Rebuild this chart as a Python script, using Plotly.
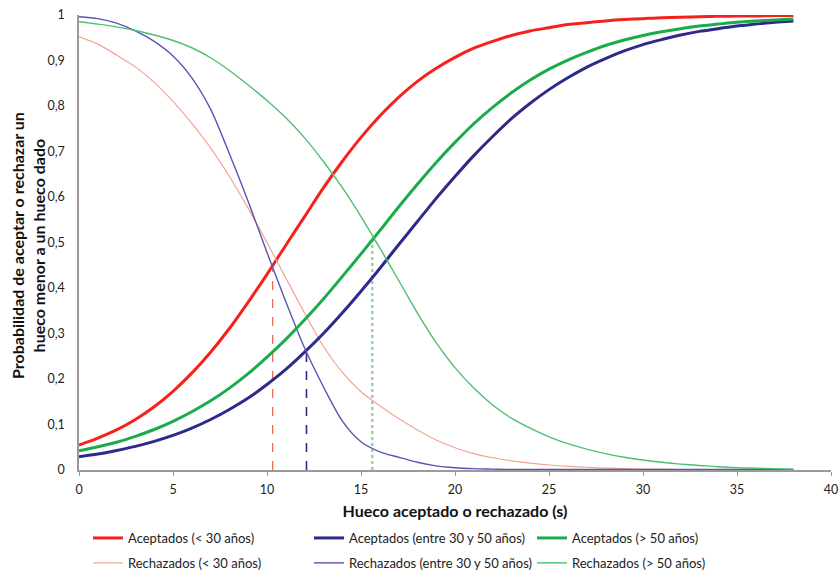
import plotly.graph_objects as go

# ---------------- data ----------------
gap_s = list(range(0, 39))

acc_lt30 = [0.055, 0.070, 0.088, 0.111, 0.139, 0.173, 0.213, 0.259, 0.311, 0.369,
            0.430, 0.494, 0.557, 0.620, 0.678, 0.731, 0.778, 0.819, 0.854, 0.883,
            0.907, 0.927, 0.942, 0.955, 0.965, 0.972, 0.979, 0.983, 0.987, 0.990,
            0.992, 0.994, 0.995, 0.996, 0.997, 0.998, 0.998, 0.999, 0.999]

acc_30_50 = [0.029, 0.035, 0.043, 0.052, 0.063, 0.076, 0.092, 0.111, 0.133, 0.158,
             0.188, 0.221, 0.259, 0.300, 0.345, 0.393, 0.443, 0.495, 0.546, 0.597,
             0.645, 0.691, 0.733, 0.772, 0.806, 0.836, 0.862, 0.885, 0.904, 0.921,
             0.935, 0.946, 0.956, 0.964, 0.970, 0.976, 0.980, 0.984, 0.987]

acc_gt50 = [0.042, 0.051, 0.061, 0.074, 0.089, 0.107, 0.128, 0.152, 0.180, 0.212,
            0.248, 0.287, 0.330, 0.376, 0.425, 0.475, 0.526, 0.578, 0.628, 0.676,
            0.720, 0.761, 0.797, 0.829, 0.857, 0.881, 0.901, 0.918, 0.933, 0.945,
            0.955, 0.963, 0.970, 0.976, 0.980, 0.984, 0.987, 0.989, 0.991]

rej_lt30 = [0.952, 0.936, 0.912, 0.886, 0.852, 0.810, 0.762, 0.708, 0.645, 0.575,
            0.500, 0.422, 0.345, 0.272, 0.215, 0.172, 0.141, 0.113, 0.088, 0.066,
            0.049, 0.036, 0.027, 0.020, 0.015, 0.011, 0.008, 0.006, 0.004, 0.003,
            0.002, 0.002, 0.001, 0.001, 0.001, 0.001, 0.001, 0.001, 0.001]

rej_30_50 = [0.996, 0.992, 0.982, 0.965, 0.942, 0.910, 0.862, 0.793, 0.695, 0.590,
             0.478, 0.370, 0.268, 0.183, 0.108, 0.062, 0.040, 0.028, 0.017, 0.009,
             0.005, 0.003, 0.002, 0.001, 0.001, 0.001, 0.001, 0.001, 0.001, 0.001,
             0.001, 0.001, 0.001, 0.001, 0.001, 0.001, 0.001, 0.001, 0.001]

rej_gt50 = [0.985, 0.980, 0.974, 0.966, 0.956, 0.944, 0.928, 0.906, 0.878, 0.846,
            0.812, 0.774, 0.730, 0.678, 0.621, 0.557, 0.488, 0.417, 0.345, 0.280,
            0.225, 0.180, 0.143, 0.114, 0.092, 0.073, 0.058, 0.046, 0.036, 0.028,
            0.022, 0.017, 0.013, 0.010, 0.007, 0.005, 0.004, 0.003, 0.002]

# critical gaps (crossing of accepted / rejected curves)
cross_x = [10.3, 12.1, 15.6]
cross_y = [0.443, 0.258, 0.516]

x_ticks = [0, 5, 10, 15, 20, 25, 30, 35, 40]
y_ticks = [0, 0.1, 0.2, 0.3, 0.4, 0.5, 0.6, 0.7, 0.8, 0.9, 1]

# ---------------- styles ----------------
RED, BLUE, GREEN = "#f5221b", "#2d2a8a", "#1aab4a"
RED_L, BLUE_L, GREEN_L = "#f2a593", "#5b54b5", "#4cc070"
FONT = "Lato"

fig = go.Figure()

series = [
    ("Aceptados (< 30 años)", acc_lt30, RED, 3, "legend"),
    ("Rechazados (< 30 años)", rej_lt30, RED_L, 1.2, "legend"),
    ("Aceptados (entre 30 y 50 años)", acc_30_50, BLUE, 3, "legend2"),
    ("Rechazados (entre 30 y 50 años)", rej_30_50, BLUE_L, 1.4, "legend2"),
    ("Aceptados (> 50 años)", acc_gt50, GREEN, 3, "legend3"),
    ("Rechazados (> 50 años)", rej_gt50, GREEN_L, 1.4, "legend3"),
]

# dashed verticals first (drawn below curves)
dash_styles = [("#ec6a55", 1.3, "dash"), (BLUE, 1.6, "dash"), ("#86d6a0", 2.4, "dot")]
for cx, cy, (col, w, d) in zip(cross_x, cross_y, dash_styles):
    fig.add_trace(go.Scatter(x=[cx, cx], y=[0, cy], mode="lines",
                             line=dict(color=col, width=w, dash=d),
                             showlegend=False, hoverinfo="skip"))

for name, ys, col, w, lg in series:
    fig.add_trace(go.Scatter(x=gap_s, y=ys, mode="lines", name=name,
                             legendgroup=name,
                             line=dict(color=col, width=w, shape="spline", smoothing=0.8),
                             legend=lg))

W, H = 840, 576
L, R, T, B = 79, 9, 15, 106
pw, ph = W - L - R, H - T - B

def px_x(p):
    return (p - L) / pw

def px_y(p):
    return (H - B - p) / ph

legend_common = dict(orientation="v", yanchor="top", xanchor="left",
                     font=dict(family=FONT, size=13, color="#222"),
                     bgcolor="rgba(0,0,0,0)", tracegroupgap=5, itemwidth=30,
                     traceorder="grouped")

fig.update_layout(
    width=W, height=H,
    margin=dict(l=L, r=R, t=T, b=B, autoexpand=False),
    paper_bgcolor="white", plot_bgcolor="white",
    separators=", ",
    font=dict(family=FONT, color="#222"),
    xaxis=dict(range=[0, 40], tickvals=x_ticks, showgrid=False, zeroline=False,
               showline=True, linecolor="#9a9a9a", linewidth=1.5,
               ticks="outside", ticklen=4, tickcolor="#9a9a9a",
               tickfont=dict(family=FONT, size=12.5, color="#222"),
               ticklabelstandoff=3, ticklabeloverflow="allow", automargin=False,
               title=dict(text="<b>Hueco aceptado o rechazado (s)</b>", standoff=10,
                          font=dict(family=FONT, size=16, color="#111"))),
    yaxis=dict(range=[0, 1], tickvals=y_ticks, showgrid=False, zeroline=False,
               showline=True, linecolor="#9a9a9a", linewidth=1.5, automargin=False,
               ticks="", tickfont=dict(family=FONT, size=12.5, color="#222"),
               ticklabelstandoff=10),
    legend=dict(x=px_x(88), y=px_y(523), **legend_common),
    legend2=dict(x=px_x(309), y=px_y(523), **legend_common),
    legend3=dict(x=px_x(532), y=px_y(523), **legend_common),
    annotations=[
        dict(text="<b>Probabilidad de aceptar o rechazar un<br>hueco menor a un hueco dado</b>",
             xref="paper", yref="paper", x=px_x(28), y=px_y(246),
             xanchor="center", yanchor="middle", textangle=-90, showarrow=False,
             font=dict(family=FONT, size=16, color="#111")),
    ],
)

fig.write_html("out.html")
